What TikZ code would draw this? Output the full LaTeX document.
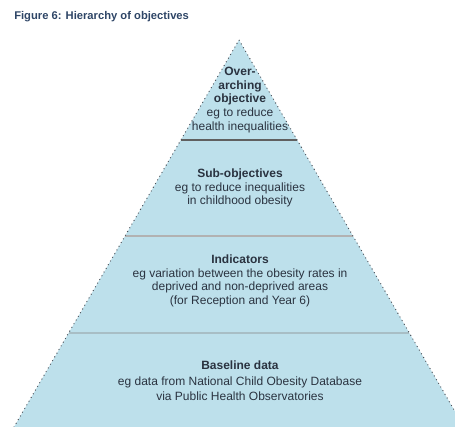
\documentclass[tikz,border=0pt]{standalone}
\usepackage{fontspec}
\setmainfont{Liberation Sans}
\definecolor{pyrfill}{HTML}{BDE0EB}
\definecolor{pyredge}{HTML}{4A4F57}
\definecolor{txt}{HTML}{2A3340}
\definecolor{ttl}{HTML}{2E4566}
\begin{document}
\begin{tikzpicture}[x=0.75pt,y=-0.75pt,
  lvl/.style={align=center,text=txt,font=\fontsize{9}{10.2}\selectfont,inner sep=0pt},
  edge/.style={draw=pyredge,line width=1pt,dash pattern=on 0pt off 3.2pt,line cap=round}]
\useasboundingbox (0,0) rectangle (455,427);
\begin{scope}
\clip (0,0) rectangle (455,427);
\coordinate (apex) at (239,40);
\coordinate (bl) at (14,427);
\coordinate (br) at (464,427);
\fill[pyrfill] (apex) -- (bl) -- (br) -- cycle;
\draw[gray!75!black,line width=1.5pt] ({239-0.58*100},140) -- ({239+0.58*100},140);
\draw[gray!60,line width=1.1pt] ({239-0.58*196},236) -- ({239+0.58*196},236);
\draw[gray!35!pyrfill,line width=0.9pt] ({239-0.58*293},333) -- ({239+0.58*293},333);
\draw[edge] (bl) -- (apex) -- (br);
\end{scope}
\node[anchor=west,text=ttl,inner sep=0pt,font=\fontsize{8.4}{10}\selectfont\bfseries] (title) at (14,17) {Figure 6: Hierarchy of objectives};
\node[lvl] (top) at (240,100) {\textbf{Over-}\\\textbf{arching}\\\textbf{objective}\\eg to reduce\\health inequalities};
\node[lvl] (sub) at (240,188) {\textbf{Sub-objectives}\\eg to reduce inequalities\\in childhood obesity};
\node[lvl] (ind) at (240,281) {\textbf{Indicators}\\eg variation between the obesity rates in\\deprived and non-deprived areas\\(for Reception and Year 6)};
\node[lvl,font=\fontsize{9}{11.5}\selectfont] (base) at (240,381) {\textbf{Baseline data}\\eg data from National Child Obesity Database\\via Public Health Observatories};
\end{tikzpicture}
\end{document}
